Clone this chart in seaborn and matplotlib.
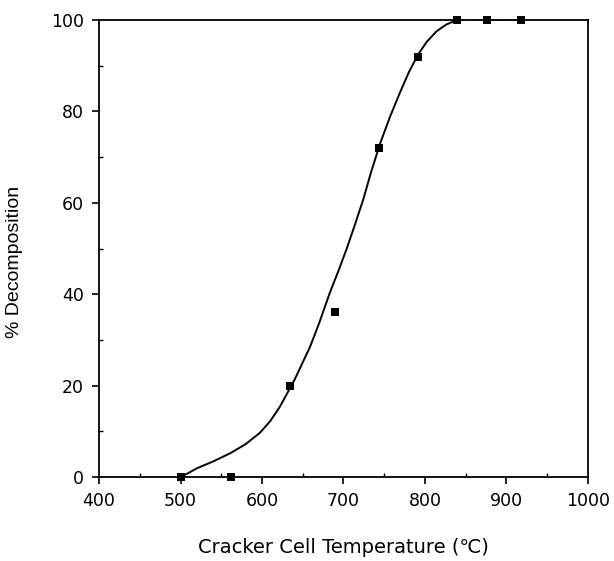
import matplotlib
matplotlib.use("Agg")
import matplotlib.pyplot as plt
import seaborn as sns
import pandas as pd
from matplotlib.ticker import MultipleLocator

# measured points
temp_pts = [500, 562, 634, 690, 744, 791, 839, 876, 918]
decomp_pts = [0, 0, 20, 36, 72, 92, 100, 100, 100]

# fitted curve
temp_curve = [500, 510, 520, 540, 561, 580, 597, 610, 622, 640, 659, 670, 683, 694,
              704, 714, 724, 734, 745, 757, 769, 780, 791, 802, 814, 826, 839, 850,
              876, 918]
decomp_curve = [0, 0.9, 1.9, 3.4, 5.2, 7.2, 9.6, 12.2, 15.4, 21.3, 28.5, 33.6, 40.2,
                45.2, 50.0, 55.2, 60.6, 66.8, 73.0, 78.8, 84.0, 88.5, 92.3, 95.2, 97.5,
                99.0, 100, 100.2, 100.1, 100]

sns.set_theme(style="ticks")
plt.rcParams['font.family'] = ['DejaVu Sans', 'Noto Sans CJK KR']
plt.rcParams['text.color'] = 'black'
plt.rcParams['axes.labelcolor'] = 'black'

fig = plt.figure(figsize=(6.14, 5.61), dpi=100)
ax = fig.add_axes([99/614, 1-477/561, (588-99)/614, (477-20)/561])

pts = pd.DataFrame({"t": temp_pts, "d": decomp_pts})
cur = pd.DataFrame({"t": temp_curve, "d": decomp_curve})

sns.lineplot(data=cur, x="t", y="d", ax=ax, color="black", linewidth=1.4, sort=False)
sns.scatterplot(data=pts, x="t", y="d", ax=ax, color="black", marker="s", s=38,
                edgecolor="black", linewidth=0, zorder=5, clip_on=False)

ax.set_xlim(400, 1000)
ax.set_ylim(0, 100)
ax.xaxis.set_major_locator(MultipleLocator(100))
ax.xaxis.set_minor_locator(MultipleLocator(50))
ax.yaxis.set_major_locator(MultipleLocator(20))
ax.yaxis.set_minor_locator(MultipleLocator(10))
ax.tick_params(axis="both", which="major", direction="out", length=5, width=1.2,
               color="black", labelsize=12.5, labelcolor="black")
ax.tick_params(axis="both", which="minor", direction="in", length=3, width=1, color="black")
ax.tick_params(axis="x", which="major", pad=6)
ax.tick_params(axis="y", which="major", pad=6)
for lab in ax.get_xticklabels() + ax.get_yticklabels():
    lab.set_fontfamily('DejaVu Sans')

for sp in ax.spines.values():
    sp.set_color("black")
    sp.set_linewidth(1.3)

ax.set_xlabel("Cracker Cell Temperature (℃)", fontsize=14, color="black",
              fontfamily=['DejaVu Sans', 'Noto Sans CJK KR'], labelpad=20)
ax.set_ylabel("% Decomposition", fontsize=14, color="black",
              fontfamily='Liberation Sans', labelpad=14)
ax.yaxis.set_label_coords(-0.155, 0.47)
ax.set_facecolor("white")
fig.patch.set_facecolor("white")

fig.savefig("out.png", dpi=100)
